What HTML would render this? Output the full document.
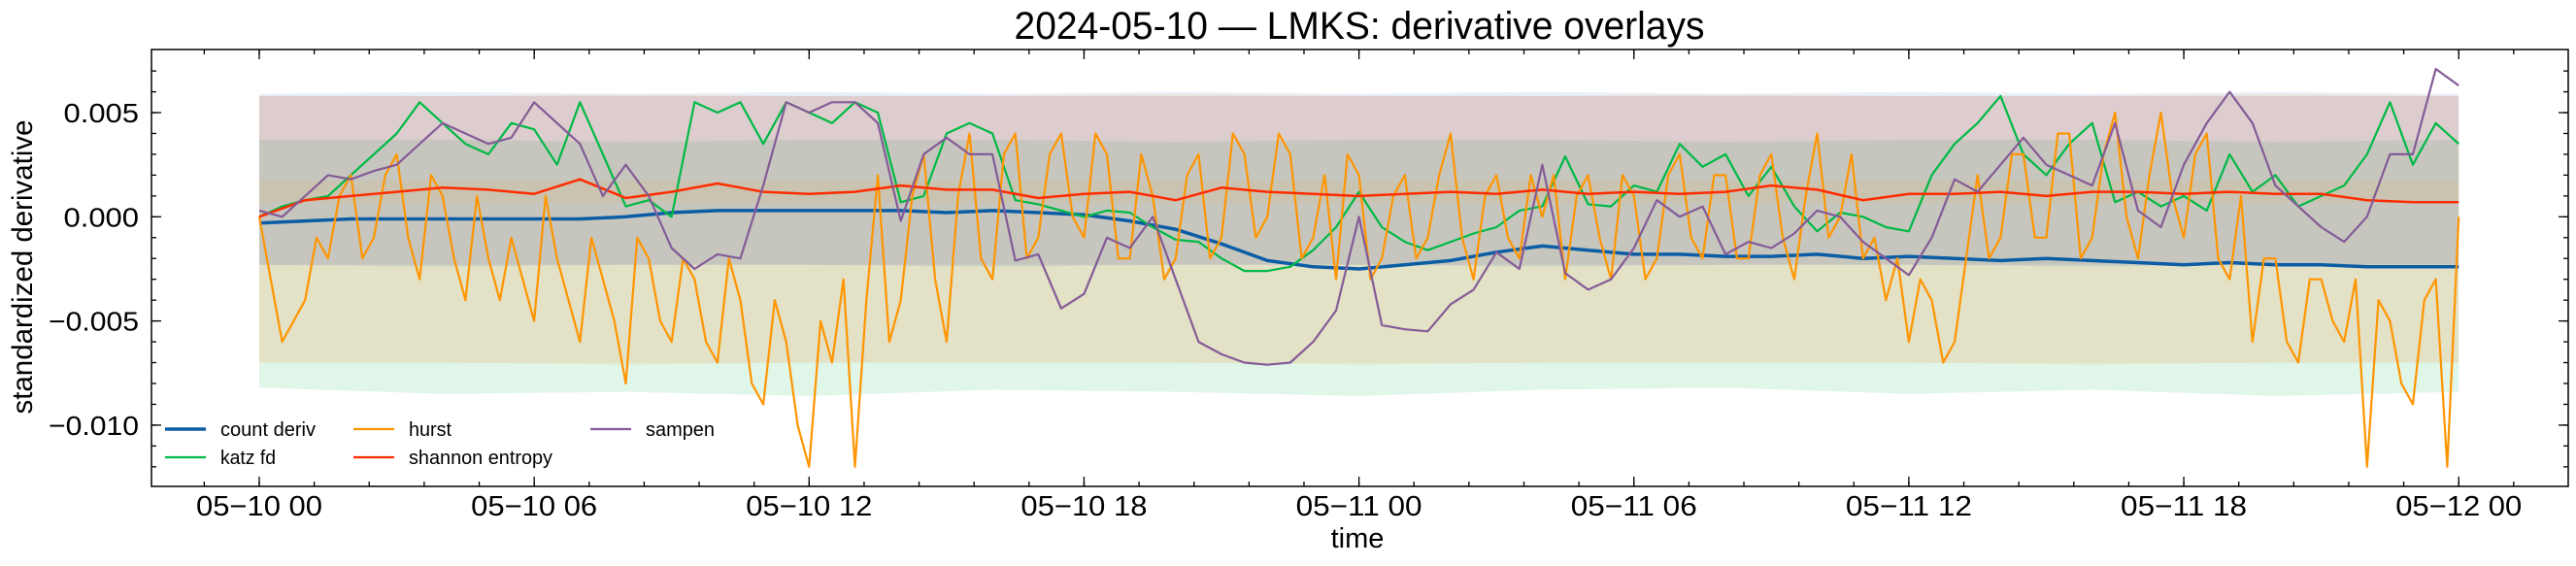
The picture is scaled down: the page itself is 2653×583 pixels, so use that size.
<!DOCTYPE html>
<html><head><meta charset="utf-8"><style>
html,body{margin:0;padding:0;background:#fff}
svg{display:block;font-family:"Liberation Sans",Arial,sans-serif}
</style></head><body>
<svg id="chart" width="2653" height="583" viewBox="0 0 2653 583">
<text x="1400" y="40" font-size="40" text-anchor="middle" textLength="711" lengthAdjust="spacingAndGlyphs">2024-05-10 — LMKS: derivative overlays</text>
<g id="bands"></g>
<g id="lines"></g>
<g id="axes"></g>
<text x="1398" y="564" font-size="29" text-anchor="middle">time</text>
<text transform="translate(33,275) rotate(-90)" font-size="30" text-anchor="middle" textLength="303" lengthAdjust="spacingAndGlyphs">standardized derivative</text>
<g id="legend"></g>
</svg>
<script>
// ---- data (hours since 05-10 00) ----
const hoursCoarse = [0,1,2,3,4,5,6,7,8,9,10,11,12,13,14,15,16,17,18,19,20,21,22,23,24,25,26,27,28,29,30,31,32,33,34,35,36,37,38,39,40,41,42,43,44,45,46,47,48];
const countDeriv = [-0.0003,-0.0002,-0.0001,-0.0001,-0.0001,-0.0001,-0.0001,-0.0001,0.0,0.0002,0.0003,0.0003,0.0003,0.0003,0.0003,0.0002,0.0003,0.0002,0.0001,-0.0002,-0.0006,-0.0013,-0.0021,-0.0024,-0.0025,-0.0023,-0.0021,-0.0017,-0.0014,-0.0016,-0.0018,-0.0018,-0.0019,-0.0019,-0.0018,-0.0020,-0.0019,-0.0020,-0.0021,-0.0020,-0.0021,-0.0022,-0.0023,-0.0022,-0.0023,-0.0023,-0.0024,-0.0024,-0.0024];
const shannon = [0.0,0.0008,0.0010,0.0012,0.0014,0.0013,0.0011,0.0018,0.0009,0.0012,0.0016,0.0012,0.0011,0.0012,0.0015,0.0013,0.0013,0.0009,0.0011,0.0012,0.0008,0.0014,0.0012,0.0011,0.0010,0.0011,0.0012,0.0011,0.0013,0.0011,0.0012,0.0011,0.0012,0.0015,0.0013,0.0008,0.0011,0.0011,0.0012,0.0010,0.0012,0.0012,0.0011,0.0012,0.0011,0.0011,0.0008,0.0007,0.0007];
const hoursFine = [0,0.5,1,1.5,2,2.5,3,3.5,4,4.5,5,5.5,6,6.5,7,7.5,8,8.5,9,9.5,10,10.5,11,11.5,12,12.5,13,13.5,14,14.5,15,15.5,16,16.5,17,17.5,18,18.5,19,19.5,20,20.5,21,21.5,22,22.5,23,23.5,24,24.5,25,25.5,26,26.5,27,27.5,28,28.5,29,29.5,30,30.5,31,31.5,32,32.5,33,33.5,34,34.5,35,35.5,36,36.5,37,37.5,38,38.5,39,39.5,40,40.5,41,41.5,42,42.5,43,43.5,44,44.5,45,45.5,46,46.5,47,47.5,48];
const katz = [0.0,0.0005,0.0008,0.001,0.002,0.003,0.004,0.0055,0.0045,0.0035,0.003,0.0045,0.0042,0.0025,0.0055,0.003,0.0005,0.0008,0.0,0.0055,0.005,0.0055,0.0035,0.0055,0.005,0.0045,0.0055,0.005,0.0007,0.001,0.004,0.0045,0.004,0.0008,0.0006,0.0003,0.0,0.0003,0.0002,-0.0005,-0.0011,-0.0012,-0.0020,-0.0026,-0.0026,-0.0024,-0.0016,-0.0005,0.0012,-0.0005,-0.0012,-0.0016,-0.0012,-0.0008,-0.0005,0.0003,0.0005,0.0029,0.0006,0.0005,0.0015,0.0012,0.0035,0.0024,0.0030,0.0010,0.0024,0.0005,-0.0007,0.0002,0.0,-0.0005,-0.0007,0.0020,0.0035,0.0045,0.0058,0.0030,0.0020,0.0035,0.0045,0.0007,0.0012,0.0005,0.0010,0.0003,0.0030,0.0012,0.0020,0.0005,0.0010,0.0015,0.0030,0.0055,0.0025,0.0045,0.0035];
const sampen = [0.0003,0.0,0.001,0.002,0.0018,0.0022,0.0025,0.0035,0.0045,0.004,0.0035,0.0038,0.0055,0.0045,0.0035,0.001,0.0025,0.001,-0.0015,-0.0025,-0.0018,-0.002,0.0015,0.0055,0.005,0.0055,0.0055,0.0045,-0.0002,0.0030,0.0038,0.0030,0.0030,-0.0021,-0.0018,-0.0044,-0.0037,-0.0010,-0.0015,0.0,-0.0030,-0.0060,-0.0066,-0.0070,-0.0071,-0.0070,-0.0060,-0.0045,0.0,-0.0052,-0.0054,-0.0055,-0.0042,-0.0035,-0.0017,-0.0025,0.0025,-0.0027,-0.0035,-0.0030,-0.0015,0.0008,0.0,0.0005,-0.0018,-0.0012,-0.0015,-0.0008,0.0003,0.0,-0.0012,-0.0020,-0.0028,-0.0010,0.0018,0.0012,0.0025,0.0038,0.0025,0.0020,0.0015,0.0045,0.0003,-0.0005,0.0025,0.0045,0.0060,0.0045,0.0015,0.0005,-0.0005,-0.0012,0.0,0.0030,0.0030,0.0071,0.0063];
const hurst = [0.0,-0.003,-0.006,-0.005,-0.004,-0.001,-0.002,0.001,0.002,-0.002,-0.001,0.002,0.003,-0.001,-0.003,0.002,0.001,-0.002,-0.004,0.001,-0.002,-0.004,-0.001,-0.003,-0.005,0.001,-0.002,-0.004,-0.006,-0.001,-0.003,-0.005,-0.008,-0.001,-0.002,-0.005,-0.006,-0.002,-0.003,-0.006,-0.007,-0.002,-0.004,-0.008,-0.009,-0.004,-0.006,-0.010,-0.012,-0.005,-0.007,-0.003,-0.012,-0.004,0.002,-0.006,-0.004,0.001,0.003,-0.003,-0.006,0.001,0.004,-0.002,-0.003,0.003,0.004,-0.002,-0.001,0.003,0.004,0.0,-0.001,0.004,0.003,-0.002,-0.002,0.003,0.001,-0.003,-0.002,0.002,0.003,-0.002,-0.001,0.004,0.003,-0.001,0.0,0.004,0.003,-0.002,-0.001,0.002,-0.003,0.003,0.002,-0.003,-0.002,0.001,0.002,-0.002,-0.001,0.002,0.004,-0.001,-0.003,0.001,0.002,-0.001,-0.002,0.002,0.0,0.002,-0.003,0.001,0.002,-0.001,-0.003,0.002,0.001,-0.003,-0.002,0.002,0.003,-0.001,-0.002,0.002,0.002,-0.002,-0.002,0.002,0.003,-0.001,-0.003,0.001,0.004,-0.001,0.0,0.003,-0.002,-0.001,-0.004,-0.002,-0.006,-0.003,-0.004,-0.007,-0.006,-0.002,0.002,-0.002,-0.001,0.003,0.003,-0.001,-0.001,0.004,0.004,-0.002,-0.001,0.003,0.005,0.0,-0.002,0.002,0.005,0.001,-0.001,0.003,0.004,-0.002,-0.003,0.001,-0.006,-0.002,-0.002,-0.006,-0.007,-0.003,-0.003,-0.005,-0.006,-0.003,-0.012,-0.004,-0.005,-0.008,-0.009,-0.004,-0.003,-0.012,0.0];
const bandHours = [0,4,8,12,16,20,24,28,32,36,40,44,48];
const bandCountHi = [0.0059,0.0060,0.0059,0.0060,0.0059,0.0060,0.0059,0.0060,0.0059,0.0060,0.0059,0.0060,0.0059];
const bandCountLo = [-0.0023,-0.0024,-0.0023,-0.0023,-0.0024,-0.0023,-0.0023,-0.0024,-0.0023,-0.0023,-0.0024,-0.0023,-0.0023];
const bandHurstHi = [0.0058,0.0058,0.0059,0.0058,0.0058,0.0059,0.0058,0.0058,0.0059,0.0058,0.0058,0.0059,0.0058];
const bandHurstLo = [-0.0070,-0.0070,-0.0071,-0.0070,-0.0070,-0.0070,-0.0071,-0.0070,-0.0070,-0.0070,-0.0071,-0.0070,-0.0070];
const bandKatzHi = [0.0037,0.0037,0.0036,0.0037,0.0037,0.0036,0.0037,0.0037,0.0036,0.0037,0.0037,0.0036,0.0037];
const bandKatzLo = [-0.0082,-0.0085,-0.0084,-0.0086,-0.0083,-0.0084,-0.0086,-0.0083,-0.0082,-0.0085,-0.0083,-0.0086,-0.0084];
const bandShannonHi = [0.0058,0.0058,0.0058,0.0058,0.0058,0.0058,0.0058,0.0058,0.0058,0.0058,0.0058,0.0058,0.0058];
const bandShannonLo = [-0.0070,-0.0070,-0.0070,-0.0070,-0.0070,-0.0070,-0.0070,-0.0070,-0.0070,-0.0070,-0.0070,-0.0070,-0.0070];
const bandShannonCoreHi = [0.0017,0.0017,0.0017,0.0017,0.0017,0.0017,0.0017,0.0017,0.0017,0.0017,0.0017,0.0017,0.0017];
const bandShannonCoreLo = [0.0007,0.0007,0.0007,0.0007,0.0007,0.0007,0.0007,0.0007,0.0007,0.0007,0.0007,0.0007,0.0007];
const bandSampenHi = [0.0058,0.0058,0.0058,0.0058,0.0058,0.0058,0.0058,0.0058,0.0058,0.0058,0.0058,0.0058,0.0058];
const bandSampenLo = [-0.0023,-0.0023,-0.0023,-0.0023,-0.0023,-0.0023,-0.0023,-0.0023,-0.0023,-0.0023,-0.0023,-0.0023,-0.0023];
const xTickHours = [0,6,12,18,24,30,36,42,48];
const xTickLabels = ["05\u221210 00","05\u221210 06","05\u221210 12","05\u221210 18","05\u221211 00","05\u221211 06","05\u221211 12","05\u221211 18","05\u221212 00"];
const yTickValues = [0.005,0.0,-0.005,-0.010];
const yTickLabels = ["0.005","0.000","\u22120.005","\u22120.010"];

// ---- axes ----
const L=156,R=2645,T=51,B=501;
const H0=-2.352, H1=50.39, V0=-0.01294, V1=0.00803;
const xs=h=>L+(h-H0)/(H1-H0)*(R-L);
const ys=v=>B-(v-V0)/(V1-V0)*(B-T);
const NS="http://www.w3.org/2000/svg";
function mk(tag,parent){const e=document.createElementNS(NS,tag);parent.appendChild(e);return e;}
const bandsG=document.getElementById('bands'),linesG=document.getElementById('lines'),axesG=document.getElementById('axes'),legG=document.getElementById('legend');
const hoursQuarter=hurst.map((v,i)=>i*0.25);

function band(hi,lo,color,op,name){
  let d='M'+bandHours.map((h,i)=>xs(h).toFixed(1)+','+ys(hi[i]).toFixed(1)).join('L');
  for(let i=bandHours.length-1;i>=0;i--) d+='L'+xs(bandHours[i]).toFixed(1)+','+ys(lo[i]).toFixed(1);
  const p=mk('path',bandsG);p.setAttribute('d',d+'Z');p.setAttribute('fill',color);p.setAttribute('fill-opacity',op);
  
  
}
band(bandKatzHi,bandKatzLo,'#00b945',0.12,'katz-band');
band(bandHurstHi,bandHurstLo,'#ff9500',0.09,'hurst-band');
band(bandShannonHi,bandShannonLo,'#ff2c00',0.06,'shannon-band');
band(bandCountHi,bandCountLo,'#0c5da5',0.09,'count-band');
band(bandSampenHi,bandSampenLo,'#845b97',0.11,'sampen-band');
band(bandShannonCoreHi,bandShannonCoreLo,'#ff9500',0.07,'shannon-core-band');

function line(hs,vals,color,w,name){
  const p=mk('path',linesG);
  p.setAttribute('d','M'+hs.map((h,i)=>xs(h).toFixed(1)+','+ys(vals[i]).toFixed(1)).join('L'));
  p.setAttribute('fill','none');p.setAttribute('stroke',color);p.setAttribute('stroke-width',w);p.setAttribute('stroke-linejoin','round');
  
  
}
line(hoursCoarse,countDeriv,'#0c5da5',3.5,'count-deriv-line');
line(hoursFine,katz,'#00b945',2.2,'katz-fd-line');
line(hoursQuarter,hurst,'#ff9500',2.2,'hurst-line');
line(hoursCoarse,shannon,'#ff2c00',2.5,'shannon-entropy-line');
line(hoursFine,sampen,'#845b97',2.2,'sampen-line');

// frame
const fr=mk('rect',axesG);fr.setAttribute('x',L);fr.setAttribute('y',T);fr.setAttribute('width',R-L);fr.setAttribute('height',B-T);
fr.setAttribute('fill','none');fr.setAttribute('stroke','#000');fr.setAttribute('stroke-width',1.5);


function tick(x1,y1,x2,y2){const l=mk('line',axesG);l.setAttribute('x1',x1);l.setAttribute('y1',y1);l.setAttribute('x2',x2);l.setAttribute('y2',y2);l.setAttribute('stroke','#000');l.setAttribute('stroke-width',1.3);
  
  }
for(let h=-1.2;h<=H1;h+=1.2){const x=xs(h);tick(x,B,x,B-5);tick(x,T,x,T+5);}
xTickHours.forEach((h,i)=>{const x=xs(h);tick(x,B,x,B-10);tick(x,T,x,T+10);
  const t=mk('text',axesG);t.setAttribute('x',x);t.setAttribute('y',531);t.setAttribute('font-size',29);t.setAttribute('text-anchor','middle');
  t.setAttribute('textLength',130);t.setAttribute('lengthAdjust','spacingAndGlyphs');t.textContent=xTickLabels[i];
  
  });
for(let v=-0.012;v<=0.008;v+=0.001){const y=ys(v);tick(L,y,L+5,y);tick(R,y,R-5,y);}
yTickValues.forEach((v,i)=>{const y=ys(v);tick(L,y,L+10,y);tick(R,y,R-10,y);
  const t=mk('text',axesG);t.setAttribute('x',143);t.setAttribute('y',y+10);t.setAttribute('font-size',28);t.setAttribute('text-anchor','end');
  t.setAttribute('textLength',yTickLabels[i].length*15.5);t.setAttribute('lengthAdjust','spacingAndGlyphs');t.textContent=yTickLabels[i];
  
  });

// legend
const legNames=["count deriv","katz fd","hurst","shannon entropy","sampen"];
const legColors=["#0c5da5","#00b945","#ff9500","#ff2c00","#845b97"];
const legLens=[98,57,44,148,71];
const legX=[170,170,364,364,608],legY=[442,471,442,471,442];
legNames.forEach((n,i)=>{
  const g=mk('g',legG);
  
  
  const l=mk('line',g);l.setAttribute('x1',legX[i]);l.setAttribute('x2',legX[i]+42);l.setAttribute('y1',legY[i]);l.setAttribute('y2',legY[i]);
  l.setAttribute('stroke',legColors[i]);l.setAttribute('stroke-width',i===0?3.5:2.2);
  const t=mk('text',g);t.setAttribute('x',legX[i]+57);t.setAttribute('y',legY[i]+7);t.setAttribute('font-size',20);
  t.setAttribute('textLength',legLens[i]);t.setAttribute('lengthAdjust','spacingAndGlyphs');t.textContent=n;
});
</script>
</body></html>
